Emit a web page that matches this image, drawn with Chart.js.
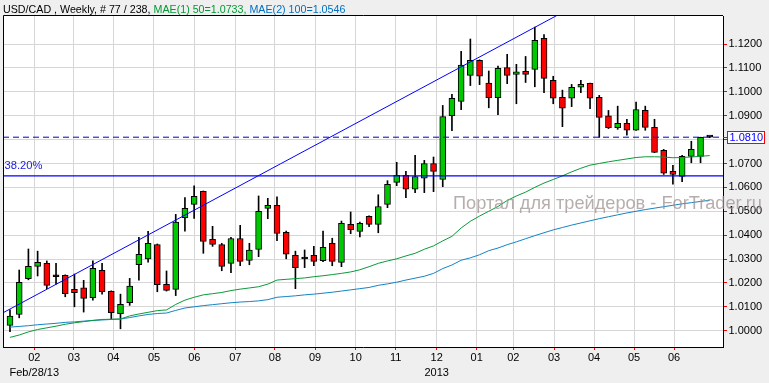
<!DOCTYPE html>
<html><head><meta charset="utf-8">
<script src="https://cdn.jsdelivr.net/npm/chart.js@4.4.1/dist/chart.umd.min.js"></script>
<style>html,body{margin:0;padding:0;background:#efefef;overflow:hidden}canvas{display:block}</style>
</head><body>
<canvas id="c" width="769" height="383"></canvas>
<script>
// ---- data (weekly USD/CAD candles) ----
const openP  = [1.0022,1.0068,1.0218,1.0269,1.0282,1.0226,1.0232,1.0173,1.0179,1.0138,1.0253,1.0165,1.0071,1.0117,1.0276,1.0301,1.0361,1.0194,1.0173,1.0473,1.0529,1.0583,1.0382,1.0360,1.0282,1.0386,1.0294,1.0340,1.0512,1.0525,1.0412,1.0315,1.0300,1.0315,1.0293,1.0366,1.0286,1.0445,1.0416,1.0479,1.0445,1.0529,1.0621,1.0650,1.0592,1.0638,1.0700,1.0633,1.0900,1.0960,1.1069,1.1132,1.1036,1.0975,1.1101,1.1073,1.1086,1.1094,1.1224,1.1048,1.0977,1.0973,1.1019,1.1035,1.0977,1.0899,1.0850,1.0868,1.0839,1.0922,1.0851,1.0755,1.0667,1.0646,1.0730,1.0730,1.0810];
const highP  = [1.0087,1.0254,1.0342,1.0333,1.0292,1.0282,1.0234,1.0237,1.0211,1.0292,1.0282,1.0167,1.0153,1.0219,1.0391,1.0416,1.0363,1.0250,1.0487,1.0557,1.0606,1.0585,1.0437,1.0366,1.0391,1.0441,1.0366,1.0564,1.0554,1.0560,1.0417,1.0333,1.0338,1.0353,1.0417,1.0387,1.0459,1.0497,1.0455,1.0481,1.0569,1.0628,1.0705,1.0667,1.0734,1.0713,1.0727,1.0943,1.0989,1.1169,1.1221,1.1134,1.1087,1.1108,1.1157,1.1115,1.1148,1.1271,1.1240,1.1065,1.1007,1.1031,1.1048,1.1036,1.0985,1.0922,1.0940,1.0885,1.0957,1.0940,1.0885,1.0759,1.0692,1.0734,1.0793,1.0810,1.0813];
const lowP   = [0.9996,1.0054,1.0213,1.0229,1.0176,1.0195,1.0142,1.0100,1.0078,1.0128,1.0153,1.0049,1.0008,1.0106,1.0212,1.0287,1.0163,1.0166,1.0147,1.0417,1.0470,1.0324,1.0353,1.0251,1.0243,1.0272,1.0276,1.0310,1.0469,1.0377,1.0301,1.0176,1.0264,1.0272,1.0289,1.0272,1.0268,1.0406,1.0393,1.0435,1.0410,1.0515,1.0607,1.0557,1.0578,1.0578,1.0582,1.0603,1.0837,1.0925,1.1026,1.1030,1.0933,1.0904,1.1034,1.0950,1.1039,1.1021,1.0996,1.0950,1.0854,1.0938,1.0996,1.0929,1.0809,1.0846,1.0843,1.0818,1.0838,1.0839,1.0745,1.0654,1.0613,1.0624,1.0703,1.0703,1.0808];
const closeP = [1.0061,1.0202,1.0269,1.0286,1.0190,1.0226,1.0155,1.0159,1.0135,1.0261,1.0163,1.0075,1.0110,1.0187,1.0320,1.0366,1.0193,1.0169,1.0455,1.0512,1.0562,1.0374,1.0361,1.0269,1.0386,1.0290,1.0338,1.0500,1.0525,1.0407,1.0320,1.0264,1.0300,1.0290,1.0349,1.0290,1.0449,1.0423,1.0449,1.0445,1.0520,1.0613,1.0650,1.0592,1.0645,1.0700,1.0667,1.0896,1.0973,1.1112,1.1132,1.1065,1.0975,1.1098,1.1069,1.1084,1.1073,1.1215,1.1056,1.0973,1.0931,1.1019,1.1031,1.0973,1.0893,1.0850,1.0868,1.0839,1.0926,1.0851,1.0746,1.0659,1.0654,1.0730,1.0759,1.0809,1.0810];
// MAE(1) 50 and MAE(2) 100 moving averages, one value per candle
const ma50  = [0.9972,0.9982,0.9995,1.0005,1.0012,1.0019,1.0027,1.0033,1.0038,1.0043,1.0047,1.0048,1.0049,1.0062,1.0070,1.0077,1.0084,1.0087,1.0110,1.0128,1.0140,1.0150,1.0155,1.0160,1.0168,1.0174,1.0179,1.0184,1.0195,1.0212,1.0215,1.0218,1.0221,1.0226,1.0230,1.0235,1.0240,1.0246,1.0255,1.0268,1.0282,1.0292,1.0301,1.0313,1.0324,1.0341,1.0355,1.0376,1.0395,1.0430,1.0458,1.0480,1.0500,1.0520,1.0545,1.0564,1.0580,1.0600,1.0618,1.0633,1.0648,1.0665,1.0680,1.0693,1.0700,1.0707,1.0713,1.0719,1.0725,1.0728,1.0728,1.0727,1.0724,1.0725,1.0727,1.0730,1.0733];
const ma100 = [1.0015,1.0018,1.0021,1.0025,1.0028,1.0031,1.0035,1.0037,1.0040,1.0043,1.0045,1.0047,1.0049,1.0055,1.0062,1.0068,1.0072,1.0074,1.0085,1.0095,1.0100,1.0105,1.0109,1.0113,1.0117,1.0120,1.0122,1.0125,1.0130,1.0140,1.0143,1.0146,1.0150,1.0153,1.0157,1.0161,1.0166,1.0171,1.0176,1.0181,1.0190,1.0196,1.0203,1.0212,1.0220,1.0228,1.0240,1.0260,1.0275,1.0295,1.0305,1.0318,1.0335,1.0346,1.0360,1.0372,1.0385,1.0398,1.0410,1.0422,1.0432,1.0442,1.0451,1.0460,1.0469,1.0477,1.0485,1.0493,1.0500,1.0507,1.0513,1.0519,1.0525,1.0531,1.0536,1.0541,1.0546];
// trend line (candle index, price) and horizontal levels
const trendX = [-0.76, 60];
const trendY = [1.0075, 1.1332];
const fibLevel = 1.0648;     // 38.20%
const lastPrice = 1.0810;
// x axis: month ticks (fractional candle positions) and their labels
const monthTickPos = [2.64,6.95,11.22,15.64,20.02,24.47,28.78,33.13,37.55,41.89,46.34,50.69,54.67,59.09,63.43,67.78,72.12];
const monthLabels  = ['02','03','04','05','06','07','08','09','10','11','12','01','02','03','04','05','06'];
const subLabels    = ['Feb/28/13','','','','','','','','','','2013','','','','','',''];
const yTickValues  = [1.00,1.01,1.02,1.03,1.04,1.05,1.06,1.07,1.08,1.09,1.10,1.11,1.12];
const header = ['USD/CAD , Weekly, # 77 / 238, ', 'MAE(1) 50=1.0733, ', 'MAE(2) 100=1.0546'];
const watermark = 'Портал для трейдеров - ForTrader.ru';

const X_MIN = -0.76, X_MAX = 77.44, Y_MIN = 0.99318, Y_MAX = 1.13173;
const FONT = "'Liberation Sans', Arial, sans-serif";

const bodies = openP.map((o,i)=>({x:i, y:[o, closeP[i]]}));
const wicks  = highP.map((h,i)=>({x:i, y:[lowP[i], h]}));
const bodyColors = openP.map((o,i)=> closeP[i] > o ? '#00c800' : (closeP[i] < o ? '#ff0000' : '#000000'));

const decor = {
  id:'decor',
  beforeDraw(chart){
    const {ctx, chartArea:a} = chart;
    ctx.save();
    ctx.fillStyle = '#efefef';
    ctx.fillRect(0,0,chart.width,chart.height);
    ctx.fillStyle = '#ffffff';
    ctx.fillRect(a.left, a.top, a.right-a.left, a.bottom-a.top);
    ctx.restore();
  },
  afterDraw(chart){
    const {ctx, chartArea:a, scales:{y}} = chart;
    ctx.save();
    // frame (left + top)
    ctx.strokeStyle = '#000'; ctx.lineWidth = 1;
    ctx.beginPath();
    ctx.moveTo(a.left+0.5, a.bottom); ctx.lineTo(a.left+0.5, a.top-0.5); ctx.lineTo(a.right, a.top-0.5);
    ctx.stroke();
    // header
    ctx.font = '10.7px ' + FONT;
    ctx.textBaseline = 'alphabetic';
    const cols = ['#000000', '#009933', '#0070c0'];
    let hx = 3;
    header.forEach((t,i)=>{ ctx.fillStyle = cols[i]; ctx.fillText(t, hx, 12.5); hx += ctx.measureText(t).width; });
    // 38.20% label
    const fy = y.getPixelForValue(fibLevel);
    ctx.fillStyle = '#2222dd';
    ctx.font = '11.2px ' + FONT;
    ctx.fillText('38.20%', a.left+1.5, fy-6.5);
    // watermark
    ctx.font = '18px ' + FONT;
    const w = ctx.measureText(watermark).width;
    const fs = 18 * 309 / w;
    ctx.font = fs.toFixed(2) + 'px ' + FONT;
    ctx.fillStyle = 'rgba(160,145,145,0.75)';
    ctx.fillText(watermark, 453, 209);
    // last price box
    const py = Math.round(y.getPixelForValue(lastPrice));
    ctx.strokeStyle = '#ff0000';
    ctx.beginPath(); ctx.moveTo(a.right, py+0.5); ctx.lineTo(a.right+4, py+0.5); ctx.stroke();
    ctx.fillStyle = '#ffffff';
    ctx.fillRect(727, py-6, 37, 12);
    ctx.strokeRect(727.5, py-5.5, 37, 12);
    ctx.fillStyle = '#0000ff';
    ctx.font = '11px ' + FONT;
    ctx.textBaseline = 'middle';
    ctx.fillText(lastPrice.toFixed(4), 729.5, py+1);
    ctx.restore();
  }
};

new Chart(document.getElementById('c'), {
  type:'bar',
  data:{datasets:[
    {type:'line', data: trendX.map((v,i)=>({x:v, y:trendY[i]})), borderColor:'#0000ff', borderWidth:1, pointRadius:0, order:0},
    {type:'line', data: [{x:X_MIN,y:fibLevel},{x:X_MAX,y:fibLevel}], borderColor:'#0000ff', borderWidth:1.2, pointRadius:0, order:0},
    {type:'line', data: [{x:X_MIN,y:lastPrice},{x:X_MAX,y:lastPrice}], borderColor:'#0000cc', borderWidth:1, borderDash:[6,4], pointRadius:0, order:0},
    {type:'line', data: ma50.map((v,i)=>({x:i,y:v})), borderColor:'#0a9a3a', borderWidth:1, pointRadius:0, order:1},
    {type:'line', data: ma100.map((v,i)=>({x:i,y:v})), borderColor:'#1484c4', borderWidth:1, pointRadius:0, order:1},
    {type:'bar', data: bodies, backgroundColor: bodyColors, borderColor:'#000000', borderWidth:1, borderSkipped:false, barThickness:6, minBarLength:2, grouped:false, order:2},
    {type:'bar', data: wicks, backgroundColor:'#000000', borderWidth:0, barThickness:1, grouped:false, order:3}
  ]},
  options:{
    responsive:false, animation:false, devicePixelRatio:1,
    layout:{padding:{top:16, left:3, right:0, bottom:0}},
    plugins:{legend:{display:false}, tooltip:{enabled:false}, title:{display:false}},
    scales:{
      x:{type:'linear', min:X_MIN, max:X_MAX, offset:false,
        afterBuildTicks: s => { s.ticks = monthTickPos.map(v=>({value:v})); },
        afterFit: s => { s.height = 36; },
        ticks:{autoSkip:false, maxRotation:0, minRotation:0, padding:0, color:'#000',
          font:{family:FONT, size:11, lineHeight:1.4},
          callback:(v,i)=> subLabels[i] ? [monthLabels[i], subLabels[i]] : monthLabels[i]},
        grid:{color:'#d6d6d6', lineWidth:1, tickColor:'#ff0000', tickLength:3, offset:false},
        border:{color:'#000', width:1}
      },
      y:{position:'right', min:Y_MIN, max:Y_MAX,
        afterBuildTicks: s => { s.ticks = yTickValues.map(v=>({value:v})); },
        afterFit: s => { s.width = 46; },
        ticks:{padding:1.5, color:'#000', font:{family:FONT, size:11}, callback: v => Number(v).toFixed(4)},
        grid:{color:'#d6d6d6', lineWidth:1, tickColor:'#ff0000', tickLength:4},
        border:{color:'#000', width:1}
      }
    }
  },
  plugins:[decor]
});
</script>
</body></html>
